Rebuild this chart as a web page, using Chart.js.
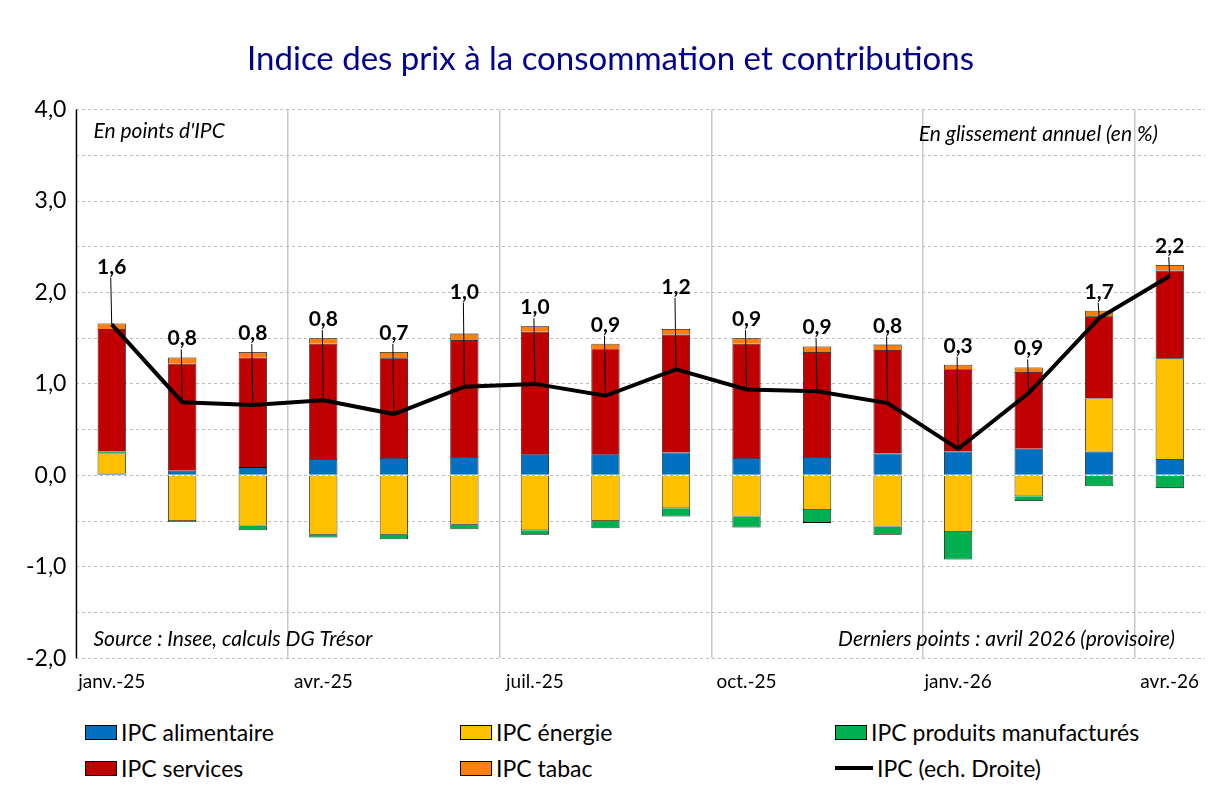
<!DOCTYPE html>
<html><head><meta charset="utf-8">
<script src="https://cdn.jsdelivr.net/npm/chart.js@4"></script>
<style>
body{margin:0;background:#fff;font-family:Lato,"Open Sans",sans-serif;}
#wrap{position:absolute;left:0;top:0;width:1219px;height:705px;}
#legend{position:absolute;left:85px;top:718px;width:1120px;display:grid;grid-template-columns:375px 375px 370px;row-gap:8px;font-size:23px;color:#000;}
.it{display:flex;align-items:center;}
.sw{width:32px;height:15px;border:1px solid #000;margin-right:4px;box-sizing:border-box;}
.ln{width:38px;height:4px;background:#000;margin-right:4px;}
</style></head><body>
<div id="wrap"><canvas id="c"></canvas></div>
<div id="legend">
<div class="it"><span class="sw" style="background:#0070C0"></span>IPC alimentaire</div>
<div class="it"><span class="sw" style="background:#FFC000"></span>IPC énergie</div>
<div class="it"><span class="sw" style="background:#00B050"></span>IPC produits manufacturés</div>
<div class="it"><span class="sw" style="background:#C00000"></span>IPC services</div>
<div class="it"><span class="sw" style="background:#FF7F0E"></span>IPC tabac</div>
<div class="it"><span class="ln"></span>IPC (ech. Droite)</div>
</div>
<script>
const categories=["janv.-25","févr.-25","mars-25","avr.-25","mai-25","juin-25","juil.-25","août-25","sept.-25","oct.-25","nov.-25","déc.-25","janv.-26","févr.-26","mars-26","avr.-26"];
const tickLabels=["janv.-25","","","avr.-25","","","juil.-25","","","oct.-25","","","janv.-26","","","avr.-26"];
const alimentaire=[0.02,0.05,0.09,0.18,0.19,0.20,0.23,0.23,0.25,0.19,0.20,0.24,0.26,0.29,0.26,0.18];
const energie=[0.22,-0.50,-0.55,-0.65,-0.65,-0.54,-0.60,-0.50,-0.36,-0.45,-0.38,-0.56,-0.62,-0.23,0.58,1.10];
const manufactures=[0.02,-0.01,-0.05,-0.03,-0.05,-0.05,-0.05,-0.08,-0.09,-0.12,-0.14,-0.09,-0.30,-0.05,-0.12,-0.14];
const services=[1.34,1.17,1.20,1.26,1.09,1.28,1.34,1.15,1.29,1.25,1.15,1.13,0.90,0.84,0.90,0.96];
const tabac=[0.06,0.07,0.06,0.06,0.07,0.07,0.06,0.06,0.06,0.06,0.06,0.06,0.05,0.05,0.06,0.06];
const ipc=[1.65,0.80,0.77,0.82,0.67,0.97,1.00,0.87,1.16,0.94,0.92,0.79,0.29,0.90,1.72,2.18];
const ipcLabels=["1,6","0,8","0,8","0,8","0,7","1,0","1,0","0,9","1,2","0,9","0,9","0,8","0,3","0,9","1,7","2,2"];

const bar=(label,data,color)=>({type:'bar',label,data,backgroundColor:color,borderColor:'#000',borderWidth:0.8,stack:'s',order:2,barPercentage:0.4,categoryPercentage:1});
const fr=v=>v.toFixed(1).replace('.',',');
const FONT='Lato, "Open Sans", sans-serif';
const notes={id:'notes',afterDatasetsDraw(ch){
 const c=ch.ctx,a=ch.chartArea,x=ch.scales.x,y=ch.scales.y;
 c.save();
 c.strokeStyle='#000';c.lineWidth=1.5;c.beginPath();c.moveTo(a.left,a.top);c.lineTo(a.left,a.bottom);c.stroke();
 c.fillStyle='#000';c.font='italic 21px '+FONT;
 c.textAlign='left';c.textBaseline='middle';
 c.fillText("En points d'IPC",a.left+17,a.top+22);
 c.fillText("Source : Insee, calculs DG Trésor",a.left+17,a.bottom-19);
 c.textAlign='right';
 c.fillText("En glissement annuel (en %)",a.right-47,a.top+25);
 c.fillText("Derniers points : avril 2026 (provisoire)",a.right-30,a.bottom-19);
 c.font='bold 21px '+FONT;c.textAlign='center';c.textBaseline='alphabetic';
 ipc.forEach((v,i)=>{
  const top=Math.max(0,alimentaire[i])+Math.max(0,energie[i])+Math.max(0,manufactures[i])+services[i]+tabac[i];
  const px=x.getPixelForValue(i);
  const ly=y.getPixelForValue(Math.max(top,v))-(i==0?50:i==8||i==5?35:12);
  c.fillText(ipcLabels[i],px,ly);
  c.strokeStyle='#000';c.lineWidth=1;c.beginPath();c.moveTo(px-1,ly+4);c.lineTo(px,y.getPixelForValue(v));c.stroke();
 });
 c.restore();
}};
new Chart(document.getElementById('c'),{
 data:{labels:categories,datasets:[
  bar('IPC alimentaire',alimentaire,'#0070C0'),
  bar('IPC énergie',energie,'#FFC000'),
  bar('IPC produits manufacturés',manufactures,'#00B050'),
  bar('IPC services',services,'#C00000'),
  bar('IPC tabac',tabac,'#FF7F0E'),
  {type:'line',label:'IPC (ech. Droite)',data:ipc,borderColor:'#000',borderWidth:4,pointRadius:0,order:1,tension:0}
 ]},
 options:{responsive:true,maintainAspectRatio:false,animation:false,
  layout:{padding:{left:16,right:14,top:0,bottom:0}},
  plugins:{legend:{display:false},tooltip:{enabled:false},
   title:{display:true,text:'Indice des prix à la consommation et contributions',color:'#000091',font:{size:33,family:FONT,weight:'normal'},padding:{top:40,bottom:30}}},
  scales:{
   x:{stacked:true,offset:true,
    grid:{offset:true,drawTicks:false,color:c=>(c.index%3==0&&c.index>0)?'#c8c8c8':'rgba(0,0,0,0)',lineWidth:1.5},
    border:{display:false},
    ticks:{autoSkip:false,maxRotation:0,padding:12,color:'#000',font:{size:19,family:FONT},callback:(v,i)=>tickLabels[i]}},
   y:{stacked:true,min:-2,max:4,
    grid:{color:'#bdbdbd',drawTicks:false,lineWidth:1},
    border:{display:false,dash:[3,3]},
    ticks:{stepSize:0.5,padding:10,color:'#000',font:{size:23,family:FONT},
     callback:v=>Number.isInteger(v)?fr(v):''}}
  }},
 plugins:[notes]
});
</script></body></html>
